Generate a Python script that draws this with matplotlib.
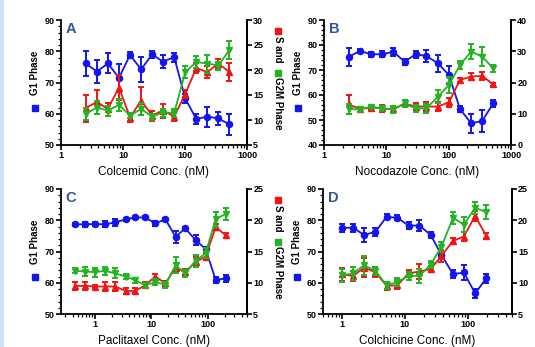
import matplotlib
matplotlib.use("Agg")
import matplotlib.pyplot as plt
from matplotlib.ticker import LogLocator, MultipleLocator, NullFormatter, FixedLocator
from matplotlib.patches import Rectangle

plt.rcParams['font.family'] = ['Liberation Sans', 'DejaVu Sans']

# ---------------- data ----------------
# Panel A: Colcemid
a_x = [2.5, 3.8, 5.7, 8.6, 13, 19.6, 29.5, 44, 67, 101, 152, 229, 345, 520]
a_g1 = [76.1, 73.5, 76.1, 71.5, 78.8, 74.2, 79.0, 76.7, 78.1, 64.9, 58.3, 59.1, 58.5, 56.6]
a_g1_err = [4, 3.6, 3.2, 4.5, 1, 4, 1.2, 2, 1.5, 1.5, 1.5, 3.2, 2, 3.4]
a_s = [12.4, 13.6, 12.2, 16.5, 10.5, 13.9, 10.9, 11.9, 10.7, 15.2, 20.4, 19.6, 21.3, 19.6]
a_s_err = [2.7, 2.4, 1.3, 2.5, 0.8, 2.8, 1, 1.4, 0.8, 0.8, 1, 1.2, 1, 1.8]
a_g2m = [11.2, 12.5, 11.9, 13.0, 10.9, 12.2, 10.7, 11.5, 11.4, 19.6, 21.6, 21.3, 20.9, 24.0]
a_g2m_err = [1.2, 1.3, 1, 1.2, 0.5, 1.2, 0.6, 0.8, 0.8, 1.2, 1.2, 1.8, 0.8, 1.8]

# Panel B: Nocodazole
b_x = [2.5, 3.8, 5.7, 8.6, 13, 19.6, 29.5, 44, 67, 101, 152, 229, 345, 520]
b_g1 = [75.3, 77.6, 76.3, 76.3, 77.3, 73.3, 76.3, 75.6, 72.7, 68.0, 54.4, 48.7, 49.6, 56.7]
b_g1_err = [3.5, 0.8, 1.0, 1.2, 1.7, 1.2, 1.5, 2.5, 3.5, 3.5, 1.3, 3.8, 4.3, 1.3]
b_s = [13, 11.5, 12, 11.7, 11.4, 13.3, 12.3, 12.3, 12.3, 13.7, 20.8, 21.9, 22.1, 19.4]
b_s_err = [3, 0.8, 0.6, 1, 1, 1, 1, 1.5, 1.5, 1.5, 0.7, 1, 1.2, 0.5]
b_g2m = [11.5, 11.4, 12.3, 11.7, 11.4, 13.3, 11.7, 11.7, 15.5, 19.2, 25.6, 29.9, 28.3, 24.5]
b_g2m_err = [1.5, 0.8, 0.5, 0.8, 1, 1, 1, 1.5, 2, 2.5, 1.2, 2.5, 3, 1.2]

# Panel C: Paclitaxel
c_x = [0.44, 0.66, 1.0, 1.5, 2.3, 3.5, 5.2, 7.8, 11.8, 17.8, 27, 40, 61, 92, 139, 210]
c_g1 = [78.7, 78.7, 78.8, 78.7, 79.3, 80.3, 80.9, 80.9, 79.0, 80.3, 74.7, 77.4, 73.7, 70.8, 60.9, 61.4]
c_g1_err = [0.5, 0.8, 0.5, 1.0, 1.2, 0.5, 0.5, 0.5, 0.7, 0.5, 2.0, 0.5, 1.5, 0.5, 1.0, 1.0]
c_s = [9.5, 9.5, 9.4, 9.4, 9.4, 8.7, 8.7, 9.6, 11.0, 9.9, 12.4, 11.7, 13.3, 14.2, 18.9, 17.6]
c_s_err = [0.6, 0.6, 0.3, 0.7, 0.7, 0.5, 0.4, 0.5, 0.4, 0.4, 0.8, 0.5, 0.8, 0.5, 0.5, 0.4]
c_g2m = [11.9, 11.8, 11.7, 11.9, 11.5, 11.0, 10.4, 9.6, 10.1, 9.7, 12.8, 11.5, 13.5, 14.7, 20.2, 21.0]
c_g2m_err = [0.4, 0.7, 0.7, 0.7, 0.8, 0.4, 0.4, 0.4, 0.5, 0.5, 1.3, 0.6, 0.9, 0.8, 1.2, 1.0]

# Panel D: Colchicine
d_x = [1.0, 1.5, 2.25, 3.4, 5.1, 7.6, 11.4, 17, 25.6, 38, 58, 86, 130, 195]
d_g1 = [77.6, 77.6, 75.3, 76.3, 81.1, 80.8, 78.3, 78.3, 75.3, 68.9, 62.7, 63.3, 56.6, 61.4]
d_g1_err = [1.3, 1.2, 2.3, 1.3, 0.8, 0.8, 1.0, 1.7, 1.0, 1.0, 1.3, 2.5, 1.5, 1.5]
d_s = [11.35, 11.1, 12.4, 11.7, 9.5, 9.6, 11.5, 11.8, 12.2, 14.3, 16.7, 17.4, 20.7, 17.5]
d_s_err = [1, 0.8, 1.5, 0.8, 0.6, 0.6, 0.6, 1.2, 0.5, 1, 0.4, 0.7, 0.8, 0.5]
d_g2m = [11.2, 11.5, 12.8, 11.9, 9.6, 10.1, 11.1, 11.1, 12.9, 15.8, 20.4, 19.3, 22.0, 21.3]
d_g2m_err = [1, 1, 1.5, 0.7, 0.6, 0.6, 0.6, 1.1, 0.6, 0.8, 1, 1.2, 1, 1.1]

panels = [
    dict(letter='A', xlabel='Colcemid Conc. (nM)', x=a_x, g1=a_g1, g1e=a_g1_err, s=a_s, se=a_s_err,
         g2=a_g2m, g2e=a_g2m_err, xlim=(1, 1000), xticks=[1, 10, 100, 1000], ylim=(50, 90),
         y2lim=(5, 30), y2step=5, rlabel=True),
    dict(letter='B', xlabel='Nocodazole Conc. (nM)', x=b_x, g1=b_g1, g1e=b_g1_err, s=b_s, se=b_s_err,
         g2=b_g2m, g2e=b_g2m_err, xlim=(1, 1000), xticks=[1, 10, 100, 1000], ylim=(40, 90),
         y2lim=(0, 40), y2step=10, rlabel=False),
    dict(letter='C', xlabel='Paclitaxel Conc. (nM)', x=c_x, g1=c_g1, g1e=c_g1_err, s=c_s, se=c_s_err,
         g2=c_g2m, g2e=c_g2m_err, xlim=(0.25, 500), xticks=[1, 10, 100], ylim=(50, 90),
         y2lim=(5, 25), y2step=5, rlabel=True),
    dict(letter='D', xlabel='Colchicine Conc. (nM)', x=d_x, g1=d_g1, g1e=d_g1_err, s=d_s, se=d_s_err,
         g2=d_g2m, g2e=d_g2m_err, xlim=(0.5, 500), xticks=[1, 10, 100], ylim=(50, 90),
         y2lim=(5, 25), y2step=5, rlabel=False),
]

BLUE = '#1414ee'
RED = '#f01414'
GREEN = '#22b422'
LETTER = '#33539a'

fig = plt.figure(figsize=(5.35, 3.47), dpi=100)
fig.patch.set_facecolor('white')
fig.patches.append(Rectangle((0, 0), 4 / 535, 1, transform=fig.transFigure,
                             facecolor='#cfe0f2', edgecolor='none'))

rects = [
    (61, 20, 247, 145), (324, 20, 511, 145),
    (61, 189, 247, 314), (323, 189, 512, 314),
]
W, H = 535, 347

def ebar(ax, x, y, e, color, marker, z):
    ax.errorbar(x, y, yerr=e, color=color, marker=marker, ms=4.4, lw=1.3,
                elinewidth=1.4, capsize=2.2, capthick=1.4, zorder=z, clip_on=False)

for p, (l, t, r, b) in zip(panels, rects):
    ax = fig.add_axes([l / W, 1 - b / H, (r - l) / W, (b - t) / H])
    ax2 = ax.twinx()
    ax.set_xscale('log')
    ebar(ax, p['x'], p['g1'], p['g1e'], BLUE, 'o', 3)
    ebar(ax2, p['x'], p['s'], p['se'], RED, '^', 3)
    ebar(ax2, p['x'], p['g2'], p['g2e'], GREEN, 'v', 4)

    ax.set_xlim(*p['xlim'])
    ax.set_ylim(*p['ylim'])
    ax2.set_ylim(*p['y2lim'])
    ax.xaxis.set_major_locator(FixedLocator(p['xticks']))
    ax.set_xticklabels([str(v) for v in p['xticks']])
    ax.xaxis.set_minor_locator(LogLocator(base=10, subs=range(2, 10), numticks=20))
    ax.xaxis.set_minor_formatter(NullFormatter())
    ax.yaxis.set_major_locator(MultipleLocator(10))
    ax.yaxis.set_minor_locator(MultipleLocator(2))
    ax2.yaxis.set_major_locator(MultipleLocator(p['y2step']))
    ax2.yaxis.set_minor_locator(plt.NullLocator())

    for a in (ax, ax2):
        a.spines['top'].set_visible(False)
        for sp in a.spines.values():
            sp.set_linewidth(1.3)
        a.tick_params(which='major', direction='out', length=3.5, width=1.2, labelsize=6.5, pad=1.0)
        a.tick_params(which='minor', direction='out', length=2, width=0.9)
        for lab in a.get_xticklabels() + a.get_yticklabels():
            lab.set_fontweight('bold')
    ax2.spines['left'].set_visible(False)
    ax2.spines['bottom'].set_visible(False)

    ax.set_xlabel(p['xlabel'], fontsize=8.5, labelpad=4)

    ax.text(0.025, 0.985, p['letter'], transform=ax.transAxes, ha='left', va='top',
            fontsize=10.5, fontweight='bold', color=LETTER)

    # left y label with blue square
    ax.text(-0.14, 0.58, 'G1 Phase', transform=ax.transAxes, rotation=90,
            ha='center', va='center', fontsize=7, fontweight='bold')
    ax.plot([-0.14], [0.30], 's', color=BLUE, ms=4.5, transform=ax.transAxes, clip_on=False)

    # right y label with red/green squares (the right-hand panels' labels fall outside the image)
    if p['rlabel']:
        xr = 1.165
        ax2.plot([xr], [0.915], 's', color=RED, ms=4.5, transform=ax2.transAxes, clip_on=False)
        ax2.text(xr, 0.765, 'S and', transform=ax2.transAxes, rotation=270,
                 ha='center', va='center', fontsize=7, fontweight='bold')
        ax2.plot([xr], [0.58], 's', color=GREEN, ms=4.5, transform=ax2.transAxes, clip_on=False)
        ax2.text(xr, 0.33, 'G2M Phase', transform=ax2.transAxes, rotation=270,
                 ha='center', va='center', fontsize=7, fontweight='bold')

fig.savefig('out.png', dpi=100)
